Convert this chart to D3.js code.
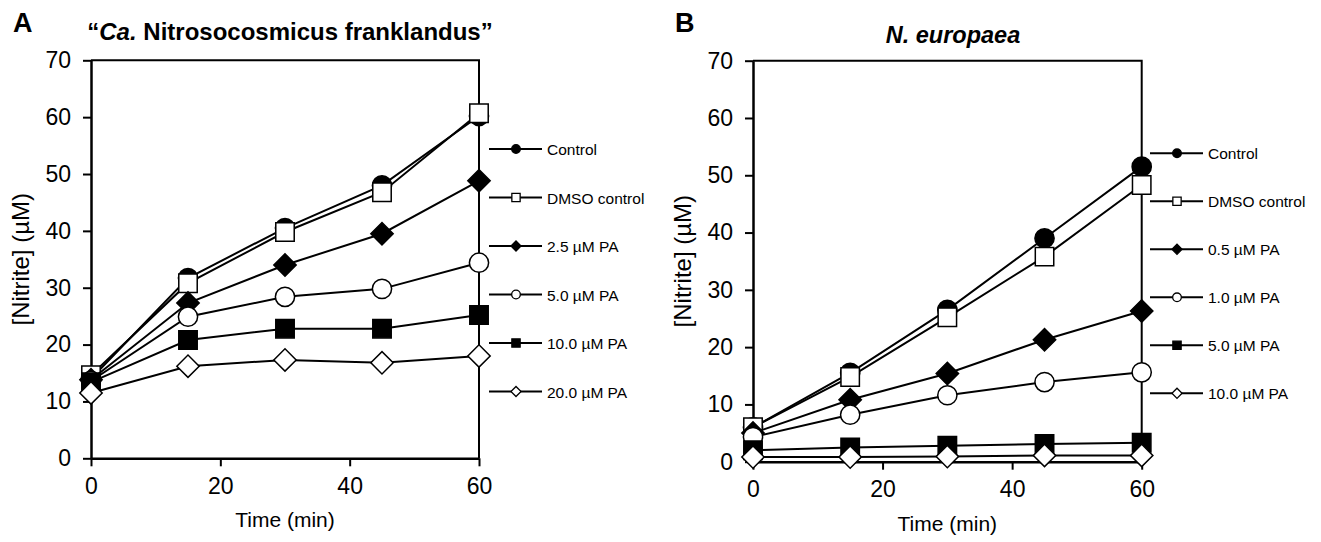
<!DOCTYPE html>
<html>
<head>
<meta charset="utf-8">
<script src="https://cdn.jsdelivr.net/npm/d3@7"></script>
<style>
  body { margin: 0; background: #fff; }
  svg { display: block; font-family: "Liberation Sans", Arial, sans-serif; }
</style>
</head>
<body>
<svg id="chart" width="1321" height="542"></svg>
<script>
// sampling times (min)
const times = [0, 15, 30, 45, 60];
const xTicks = [0, 20, 40, 60];
const yTicks = [0, 10, 20, 30, 40, 50, 60, 70];

// panel A: "Ca. Nitrosocosmicus franklandus"
const labelsA = ["Control", "DMSO control", "2.5 µM PA", "5.0 µM PA", "10.0 µM PA", "20.0 µM PA"];
const controlA = [14.0, 31.7, 40.5, 48.0, 60.2];
const dmsoA    = [14.6, 30.8, 39.8, 46.8, 60.7];
const pa25A    = [13.8, 27.3, 34.0, 39.5, 48.8];
const pa50A    = [13.6, 24.9, 28.4, 29.8, 34.4];
const pa100A   = [13.4, 20.8, 22.8, 22.8, 25.2];
const pa200A   = [11.5, 16.2, 17.3, 16.8, 18.0];

// panel B: N. europaea
const labelsB = ["Control", "DMSO control", "0.5 µM PA", "1.0 µM PA", "5.0 µM PA", "10.0 µM PA"];
const controlB = [6.0, 15.5, 26.5, 39.0, 51.5];
const dmsoB    = [6.0, 14.8, 25.2, 35.8, 48.3];
const pa05B    = [5.0, 10.8, 15.4, 21.3, 26.3];
const pa10B    = [4.3, 8.2, 11.6, 13.9, 15.6];
const pa50B    = [2.0, 2.5, 2.8, 3.1, 3.3];
const pa100B   = [0.8, 0.8, 0.9, 1.1, 1.1];

// marker styles, same order for both panels
const markers = [
  { shape: "circle",  fill: "#000" },
  { shape: "square",  fill: "#fff" },
  { shape: "diamond", fill: "#000" },
  { shape: "circle",  fill: "#fff" },
  { shape: "square",  fill: "#000" },
  { shape: "diamond", fill: "#fff" }
];

const svg = d3.select("#chart");

function markerPath(shape, big) {
  const k = big ? 1 : 0.45;
  if (shape === "circle") return d3.symbol(d3.symbolCircle, 290 * k * k)();
  if (shape === "square") return d3.symbol(d3.symbolSquare, 340 * k * k)();
  return d3.symbol(d3.symbolSquare, 250 * k * k)();
}

function drawPanel(cfg) {
  const g = svg.append("g");
  const x = d3.scaleLinear().domain([0, 60]).range([cfg.left, cfg.right]);
  const y = d3.scaleLinear().domain([0, 70]).range([cfg.bottom, cfg.top]);

  // frame: top and right edges
  g.append("path")
    .attr("d", `M${x(0)},${y(70)}H${x(60)}V${y(0)}`)
    .attr("fill", "none").attr("stroke", "#000").attr("stroke-width", 2);

  const yAxis = g.append("g")
    .attr("transform", `translate(${x(0)},0)`)
    .call(d3.axisLeft(y).tickValues(yTicks).tickSize(8).tickSizeOuter(0).tickPadding(12));
  const xAxis = g.append("g")
    .attr("transform", `translate(0,${y(0)})`)
    .call(d3.axisBottom(x).tickValues(xTicks).tickSize(8).tickSizeOuter(0).tickPadding(11));
  [xAxis, yAxis].forEach(a => {
    a.select(".domain").attr("stroke-width", 2.5);
    a.selectAll(".tick line").attr("stroke-width", 2);
    a.selectAll("text").attr("font-size", 23).attr("font-family", "Liberation Sans").attr("fill", "#000");
  });

  g.append("text")
    .attr("x", (x(0) + x(60)) / 2).attr("y", cfg.bottom + 69)
    .attr("text-anchor", "middle").attr("font-size", 21)
    .text("Time (min)");
  g.append("text")
    .attr("transform", `translate(${cfg.left - 62},${(cfg.top + cfg.bottom) / 2}) rotate(-90)`)
    .attr("text-anchor", "middle").attr("font-size", 24)
    .text("[Nitrite] (µM)");

  const line = d3.line().x((d, i) => x(times[i])).y(d => y(d));

  cfg.series.forEach((vals, si) => {
    const m = markers[si];
    const s = g.append("g");
    s.append("path").attr("d", line(vals))
      .attr("fill", "none").attr("stroke", "#000").attr("stroke-width", 2);
    s.selectAll("path.mk").data(vals).join("path")
      .attr("class", "mk")
      .attr("d", markerPath(m.shape, true))
      .attr("transform", (d, i) => `translate(${x(times[i])},${y(d)})` + (m.shape === "diamond" ? " rotate(45)" : ""))
      .attr("fill", m.fill).attr("stroke", "#000").attr("stroke-width", 1.5);
  });

  // legend
  const lg = g.append("g");
  cfg.labels.forEach((lab, i) => {
    const m = markers[i];
    const ly = cfg.legendTop + i * cfg.legendStep;
    lg.append("line")
      .attr("x1", cfg.legendX).attr("x2", cfg.legendX + 53)
      .attr("y1", ly).attr("y2", ly)
      .attr("stroke", "#000").attr("stroke-width", 2);
    lg.append("path")
      .attr("d", markerPath(m.shape, false))
      .attr("transform", `translate(${cfg.legendX + 27},${ly})` + (m.shape === "diamond" ? " rotate(45)" : ""))
      .attr("fill", m.fill).attr("stroke", "#000").attr("stroke-width", 1.3);
    lg.append("text")
      .attr("x", cfg.legendX + 58).attr("y", ly + 6)
      .attr("font-size", 15.5)
      .text(lab);
  });

  // panel letter
  svg.append("text")
    .attr("x", cfg.letterX).attr("y", 32)
    .attr("font-size", 27).attr("font-weight", "bold")
    .text(cfg.letter);
}

drawPanel({
  letter: "A", letterX: 13,
  left: 91, right: 479, top: 60.3, bottom: 458.3,
  series: [controlA, dmsoA, pa25A, pa50A, pa100A, pa200A],
  labels: labelsA,
  legendX: 489, legendTop: 149, legendStep: 48.5
});
drawPanel({
  letter: "B", letterX: 675,
  left: 753, right: 1141.7, top: 60.7, bottom: 461.7,
  series: [controlB, dmsoB, pa05B, pa10B, pa50B, pa100B],
  labels: labelsB,
  legendX: 1150, legendTop: 153.3, legendStep: 48
});

// titles
const titleA = svg.append("text")
  .attr("x", 290).attr("y", 40)
  .attr("text-anchor", "middle").attr("font-size", 24).attr("font-weight", "bold");
titleA.append("tspan").text("“");
titleA.append("tspan").attr("font-style", "italic").text("Ca.");
titleA.append("tspan").text(" Nitrosocosmicus franklandus”");

svg.append("text")
  .attr("x", 953).attr("y", 43)
  .attr("text-anchor", "middle").attr("font-size", 23.5)
  .attr("font-weight", "bold").attr("font-style", "italic")
  .text("N. europaea");
</script>
</body>
</html>
